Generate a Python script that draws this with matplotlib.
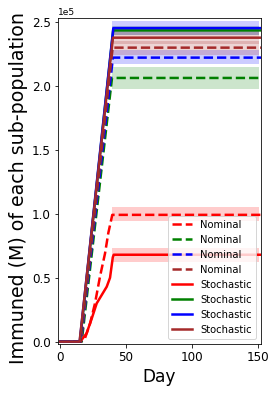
import matplotlib
matplotlib.use("Agg")
import matplotlib.pyplot as plt
import numpy as np

# ---- data (values in units of people) ----
colors = ["red", "green", "blue", "brown"]

# Nominal curves (dashed): day points and values
nom_days = {
    "red":   [0, 16, 18.8, 22.6, 26.4, 30.2, 34.0, 36.5, 39.5, 153],
    "green": [0, 16.3, 39.3, 153],
    "blue":  [0, 15.8, 40.0, 153],
    "brown": [0, 15.6, 39.8, 153],
}
nom_vals = {
    "red":   [0, 0, 2700, 14000, 30000, 51000, 69000, 85000, 99200, 99200],
    "green": [0, 0, 206300, 206300],
    "blue":  [0, 0, 222200, 222200],
    "brown": [0, 0, 230000, 230000],
}

# Stochastic curves (solid)
sto_days = {
    "red":   [0, 15.2, 20.0, 23.9, 27.7, 31.5, 35.3, 37.8, 39.9, 40.6, 153],
    "green": [0, 15.0, 40.2, 153],
    "blue":  [0, 14.8, 40.3, 153],
    "brown": [0, 14.7, 40.0, 153],
}
sto_vals = {
    "red":   [0, 0, 6500, 18000, 30000, 36500, 43000, 50000, 66000, 68000, 68000],
    "green": [0, 0, 243500, 243500],
    "blue":  [0, 0, 245300, 245300],
    "brown": [0, 0, 237800, 237800],
}

# Uncertainty bands (day range and lower/upper levels)
band_days = [39.0, 151.0]
nom_band_lo = {"red": 94500, "green": 198000, "blue": 217500, "brown": 224500}
nom_band_hi = {"red": 105000, "green": 215000, "blue": 228000, "brown": 235000}
sto_band_lo = {"red": 62500, "green": 240000, "blue": 240000, "brown": 233000}
sto_band_hi = {"red": 73000, "green": 247000, "blue": 251000, "brown": 243000}

labels_nom = "Nominal"
labels_sto = "Stochastic"

# ---- figure ----
fig = plt.figure(figsize=(280 / 72, 394 / 72), dpi=72)
ax = fig.add_axes([0.207, 0.127, 0.725, 0.827])

for c in colors:
    ax.fill_between(band_days, [nom_band_lo[c]] * 2, [nom_band_hi[c]] * 2,
                    color=c, alpha=0.2, linewidth=0)
    ax.fill_between(band_days, [sto_band_lo[c]] * 2, [sto_band_hi[c]] * 2,
                    color=c, alpha=0.2, linewidth=0)

for c in colors:
    ax.plot(nom_days[c], nom_vals[c], color=c, linestyle="--", linewidth=2.5,
            label=labels_nom)
for c in colors:
    ax.plot(sto_days[c], sto_vals[c], color=c, linestyle="-", linewidth=2.5,
            label=labels_sto)

ax.set_xlim(-1.7, 152.3)
ax.set_ylim(-1800, 253100)
ax.set_xticks([0, 50, 100, 150])
ax.ticklabel_format(axis="y", style="sci", scilimits=(0, 0))
ax.yaxis.get_offset_text().set_fontsize(9)
ax.tick_params(labelsize=12)
ax.set_xlabel("Day", fontsize=17)
ax.set_ylabel("Immuned (M) of each sub-population", fontsize=19, y=0.48)
ax.legend(loc="lower right", fontsize=10)

fig.savefig("out.png", dpi=72)
